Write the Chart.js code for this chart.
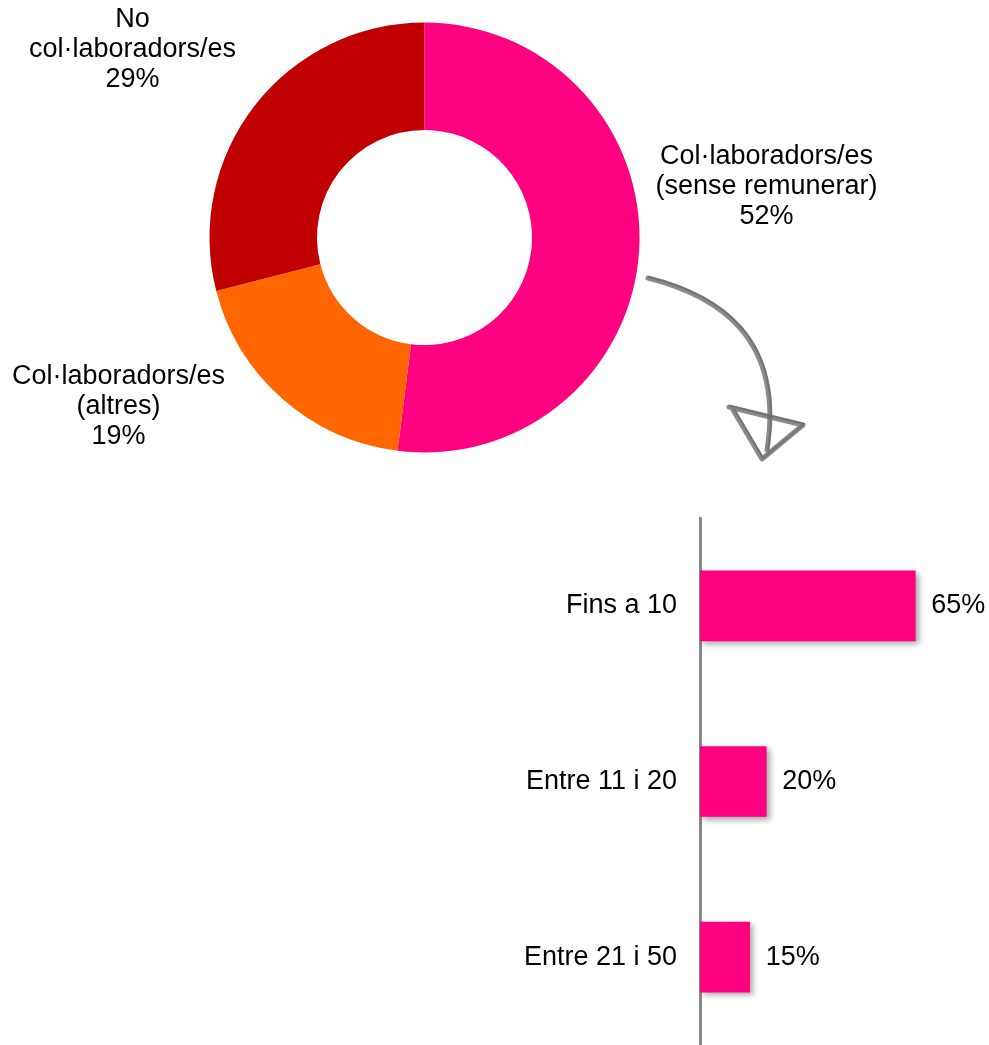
<!DOCTYPE html>
<html>
<head>
<meta charset="utf-8">
<script src="https://cdn.jsdelivr.net/npm/chart.js@4.4.1/dist/chart.umd.min.js"></script>
<style>
  body { margin: 0; background: #fff; }
  #wrap { position: relative; width: 989px; height: 1045px; overflow: hidden; }
  canvas { position: absolute; left: 0; }
  #pie { top: 0; }
  #bars { top: 500px; }
</style>
</head>
<body>
<div id="wrap">
  <canvas id="pie" width="989" height="500"></canvas>
  <canvas id="bars" width="989" height="545"></canvas>
</div>
<script>
// dades del donut
const pieLabels = [
    ['Col·laboradors/es', '(sense remunerar)', '52%'],
    ['Col·laboradors/es', '(altres)', '19%'],
    ['No', 'col·laboradors/es', '29%']
];
const pieValues = [52, 19, 29];
const pieColors = ['#FF0080', '#FF6600', '#C00000'];

// dades de les barres
const barCategories = ['Fins a 10', 'Entre 11 i 20', 'Entre 21 i 50'];
const barValues = [65, 20, 15];
const barColor = '#FF0080';

const FONT = "'Liberation Sans', Arial, sans-serif";
Chart.defaults.font.family = FONT;
Chart.defaults.color = '#000';

// posicio de cada etiqueta respecte del centre del donut
const labelOffsets = [[342, -51], [-306, 169], [-292, -188]];

const pieLabelPlugin = {
    id: 'pieLabels',
    afterDatasetsDraw(chart) {
        const ctx = chart.ctx;
        const arc = chart.getDatasetMeta(0).data[0];
        ctx.save();
        ctx.font = '27px ' + FONT;
        ctx.fillStyle = '#000';
        ctx.textAlign = 'center';
        ctx.textBaseline = 'middle';
        pieLabels.forEach((lines, i) => {
            const cx = arc.x + labelOffsets[i][0];
            const cy = arc.y + labelOffsets[i][1];
            lines.forEach((t, k) => ctx.fillText(t, cx, cy + (k - (lines.length - 1) / 2) * 30));
        });
        ctx.restore();
    }
};

// fletxa dibuixada a ma
const arrowPlugin = {
    id: 'arrow',
    afterDraw(chart) {
        const ctx = chart.ctx;
        ctx.save();
        ctx.strokeStyle = 'rgba(110,110,110,0.8)';
        ctx.lineCap = 'round';
        ctx.lineJoin = 'round';
        [[0, 0, 5], [1, -1, 2]].forEach(([dx, dy, w]) => {
            ctx.lineWidth = w;
            ctx.beginPath();
            ctx.moveTo(648 + dx, 278 + dy);
            ctx.bezierCurveTo(715 + dx, 295 + dy, 785 + dx, 335 + dy, 767 + dx, 450 + dy);
            ctx.stroke();
            ctx.beginPath();
            ctx.moveTo(729 + dx, 407 + dy);
            ctx.lineTo(803 + dx, 425 + dy);
            ctx.lineTo(762 + dx, 459 + dy);
            ctx.lineTo(733 + dx, 410 + dy);
            ctx.stroke();
        });
        ctx.restore();
    }
};

new Chart(document.getElementById('pie'), {
    type: 'doughnut',
    data: {
        labels: pieLabels.map(l => l.join(' ')),
        datasets: [{ data: pieValues, backgroundColor: pieColors, borderWidth: 0 }]
    },
    options: {
        responsive: false,
        animation: false,
        cutout: '50%',
        layout: { padding: { left: 209.5, right: 349.5, top: 22.5, bottom: 47.5 } },
        plugins: { legend: { display: false }, tooltip: { enabled: false } }
    },
    plugins: [pieLabelPlugin, arrowPlugin]
});

const shadowPlugin = {
    id: 'barShadow',
    beforeDatasetsDraw(chart) {
        const ctx = chart.ctx;
        ctx.save();
        ctx.shadowColor = 'rgba(0,0,0,0.35)';
        ctx.shadowBlur = 6;
        ctx.shadowOffsetX = 3;
        ctx.shadowOffsetY = 3;
    },
    afterDatasetsDraw(chart) {
        const ctx = chart.ctx;
        ctx.restore();
        ctx.save();
        ctx.font = '27px ' + FONT;
        ctx.fillStyle = '#000';
        ctx.textAlign = 'left';
        ctx.textBaseline = 'middle';
        chart.getDatasetMeta(0).data.forEach((bar, i) => {
            ctx.fillText(barValues[i] + '%', bar.x + 16, bar.y);
        });
        ctx.restore();
    }
};

new Chart(document.getElementById('bars'), {
    type: 'bar',
    data: {
        labels: barCategories,
        datasets: [{
            data: barValues,
            backgroundColor: barColor,
            borderWidth: 0,
            barThickness: 70
        }]
    },
    options: {
        indexAxis: 'y',
        responsive: false,
        animation: false,
        layout: { padding: { left: 0, right: 24, top: 18, bottom: 0 } },
        scales: {
            x: { display: false, min: 0, max: 80 },
            y: {
                afterFit: s => { s.width = 700; s.paddingTop = 0; s.paddingBottom = 0; },
                grid: { display: false },
                border: { display: true, color: '#888888', width: 3 },
                ticks: { padding: 15, color: '#000', font: { size: 27 } }
            }
        },
        plugins: { legend: { display: false }, tooltip: { enabled: false } }
    },
    plugins: [shadowPlugin]
});
</script>
</body>
</html>
